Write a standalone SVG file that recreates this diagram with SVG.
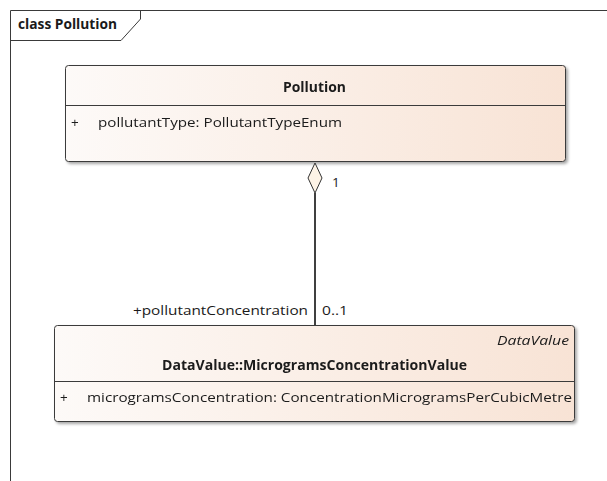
<svg xmlns="http://www.w3.org/2000/svg" width="607" height="481" viewBox="0 0 607 481">
<defs>
<linearGradient id="g" x1="0" y1="0" x2="1" y2="0">
<stop offset="0" stop-color="#fdfaf8"/>
<stop offset="1" stop-color="#f8e3d5"/>
</linearGradient>
<filter id="sh" x="-5%" y="-5%" width="110%" height="120%">
<feGaussianBlur in="SourceAlpha" stdDeviation="1.5"/>
<feOffset dx="2" dy="2"/>
<feComponentTransfer><feFuncA type="linear" slope="0.35"/></feComponentTransfer>
<feMerge><feMergeNode/><feMergeNode in="SourceGraphic"/></feMerge>
</filter>
</defs>
<style>
text{font-family:"Open Sans","Noto Sans","Liberation Sans",sans-serif;fill:#1a1a1a;font-size:13.5px}
.b{font-weight:bold}
.i{font-style:italic}
.box{fill:url(#g);stroke:#3a3a3a;stroke-width:1}
.ln{stroke:#3a3a3a;stroke-width:1;fill:none}
</style>
<rect width="607" height="481" fill="#ffffff"/>
<g id="frame">
<path class="ln" d="M10.5 481 V10.5 H607"/>
<path class="ln" d="M10.5 40.5 H121 L140.5 19 V10.5"/>
<text x="18" y="29" class="b" textLength="99" lengthAdjust="spacingAndGlyphs">class Pollution</text>
</g>
<g id="Pollution" filter="url(#sh)">
<rect class="box" x="65.5" y="65.5" width="500" height="96" rx="3"/>
<line class="ln" x1="65.5" y1="105.5" x2="565.5" y2="105.5"/>
<text x="283" y="92" class="b" textLength="63" lengthAdjust="spacingAndGlyphs">Pollution</text>
<text x="71" y="127">+</text>
<text x="98" y="127" textLength="244" lengthAdjust="spacingAndGlyphs">pollutantType: PollutantTypeEnum</text>
</g>
<g id="MicrogramsConcentrationValue" filter="url(#sh)">
<rect class="box" x="54.5" y="325.5" width="520" height="96" rx="3"/>
<line class="ln" x1="54.5" y1="381.5" x2="574.5" y2="381.5"/>
<text x="497" y="345" class="i" textLength="72" lengthAdjust="spacingAndGlyphs">DataValue</text>
<text x="162" y="370" class="b" textLength="305" lengthAdjust="spacingAndGlyphs">DataValue::MicrogramsConcentrationValue</text>
<text x="60" y="402">+</text>
<text x="87" y="402" textLength="485" lengthAdjust="spacingAndGlyphs">microgramsConcentration: ConcentrationMicrogramsPerCubicMetre</text>
</g>
<g id="connectors">
<line x1="315" y1="193" x2="315" y2="325" stroke="#000" stroke-width="1.5"/>
<path d="M315 163 L322 178 L315 193 L308 178 Z" fill="#fdf3e6" stroke="#333" stroke-width="1"/>
<text x="332" y="187">1</text>
<text x="133" y="315" textLength="175" lengthAdjust="spacingAndGlyphs">+pollutantConcentration</text>
<text x="322" y="315" textLength="26" lengthAdjust="spacingAndGlyphs">0..1</text>
</g>
</svg>
